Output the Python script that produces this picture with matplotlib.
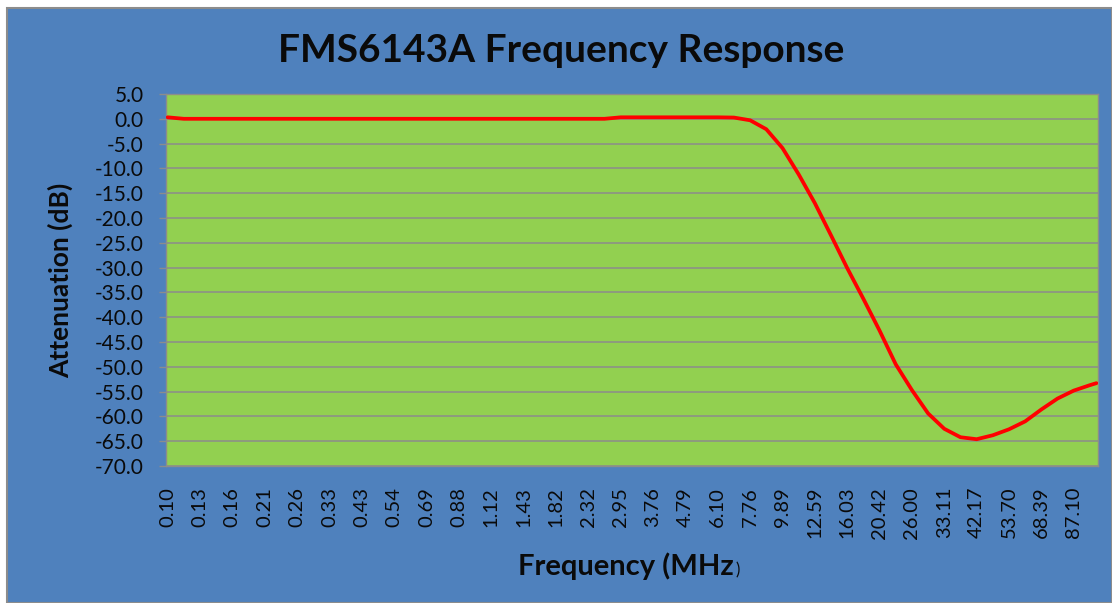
import numpy as np
import matplotlib
matplotlib.use("Agg")
import matplotlib.pyplot as plt
from matplotlib.patches import Rectangle

# ---------------- data ----------------
freq_labels = ["0.10", "0.13", "0.16", "0.21", "0.26", "0.33", "0.43", "0.54",
               "0.69", "0.88", "1.12", "1.43", "1.82", "2.32", "2.95", "3.76",
               "4.79", "6.10", "7.76", "9.89", "12.59", "16.03", "20.42",
               "26.00", "33.11", "42.17", "53.70", "68.39", "87.10"]
n_categories = 288          # number of measured frequency points
label_every = 10            # a label every 10th frequency point

# category index of each reading, and attenuation read there (dB)
reading_index = list(range(0, 290, 5)) + [287]
attenuation_db = [0.3, 0.0,
                  0.0, 0.0, 0.0, 0.0, 0.0, 0.0, 0.0, 0.0, 0.0, 0.0,
                  0.0, 0.0, 0.0, 0.0, 0.0, 0.0, 0.0, 0.0, 0.0, 0.0,
                  0.0, 0.0, 0.0, 0.0, 0.0, 0.0,
                  0.3, 0.3, 0.3, 0.3, 0.3, 0.3, 0.3, 0.25,
                  -0.3, -2.1, -5.9, -11.2, -17.0, -23.5, -30.1, -36.3,
                  -42.7, -49.5, -54.7, -59.4, -62.5, -64.2, -64.6, -63.8,
                  -62.6, -61.0, -58.6, -56.4, -54.8, -53.7, -53.3]

y_ticks = np.arange(-70, 5.1, 5)

# ---------------- style ----------------
BLUE = "#4F81BD"
GREEN = "#92D050"
GRID = "#8C8C8C"
FONT = ["Lato", "DejaVu Sans"]
plt.rcParams["font.family"] = FONT

W, H = 1112, 603
fig = plt.figure(figsize=(W / 100, H / 100), dpi=100, facecolor="white")
fig.patches.append(Rectangle((7 / W, 0), 1 - 7 / W, 1 - 8 / H, transform=fig.transFigure,
                             facecolor=BLUE, edgecolor="#8C8C8C", linewidth=1.5, zorder=-10))

ax = fig.add_axes([166 / W, 1 - 466 / H, (1098 - 166) / W, (466 - 94) / H])
ax.set_zorder(1)
ax.set_facecolor(GREEN)

x = np.array(reading_index)
ax.plot(x, attenuation_db, color="#FF0000", linewidth=2.7, solid_capstyle="round",
        solid_joinstyle="round", zorder=3)

ax.set_xlim(-0.5, n_categories - 0.5)
ax.set_ylim(-70, 5)
ax.set_yticks(y_ticks)
ax.set_yticklabels([f"{v:.1f}" for v in y_ticks])
ax.set_xticks(np.arange(len(freq_labels)) * label_every)
ax.set_xticklabels(freq_labels, rotation=90, ha="center", va="top")

ax.grid(axis="y", color=GRID, linewidth=1.1)
ax.grid(axis="x", visible=False)
ax.set_axisbelow(True)
for s in ax.spines.values():
    s.set_color(GRID)
    s.set_linewidth(1.0)

ax.tick_params(axis="y", length=5, width=1, color=GRID, pad=11,
               labelsize=15, labelcolor="#0a0a0a")
ax.tick_params(axis="x", length=0, pad=15, labelsize=14.5, labelcolor="#0a0a0a")

# ---------------- texts ----------------
fig.text(0.505, 1 - 62 / H, "FMS6143A Frequency Response", ha="center", va="baseline",
         fontsize=28, fontweight="bold", color="#0a0a0a")
fig.text(60 / W, 1 - 280 / H, "Attenuation (dB)", rotation=90, ha="center", va="center",
         fontsize=19, fontweight="bold", color="#0a0a0a")
xl = fig.text(518 / W, 1 - 575 / H, "Frequency (MHz", ha="left", va="baseline",
              fontsize=21, fontweight="bold", color="#0a0a0a")
r = fig.canvas.get_renderer()
bb = xl.get_window_extent(renderer=r)
fig.text((bb.x1 + 2) / W, 1 - 575 / H, ")", ha="left", va="baseline",
         fontsize=12, color="#0a0a0a")

fig.savefig("out.png", dpi=100, facecolor=fig.get_facecolor())
